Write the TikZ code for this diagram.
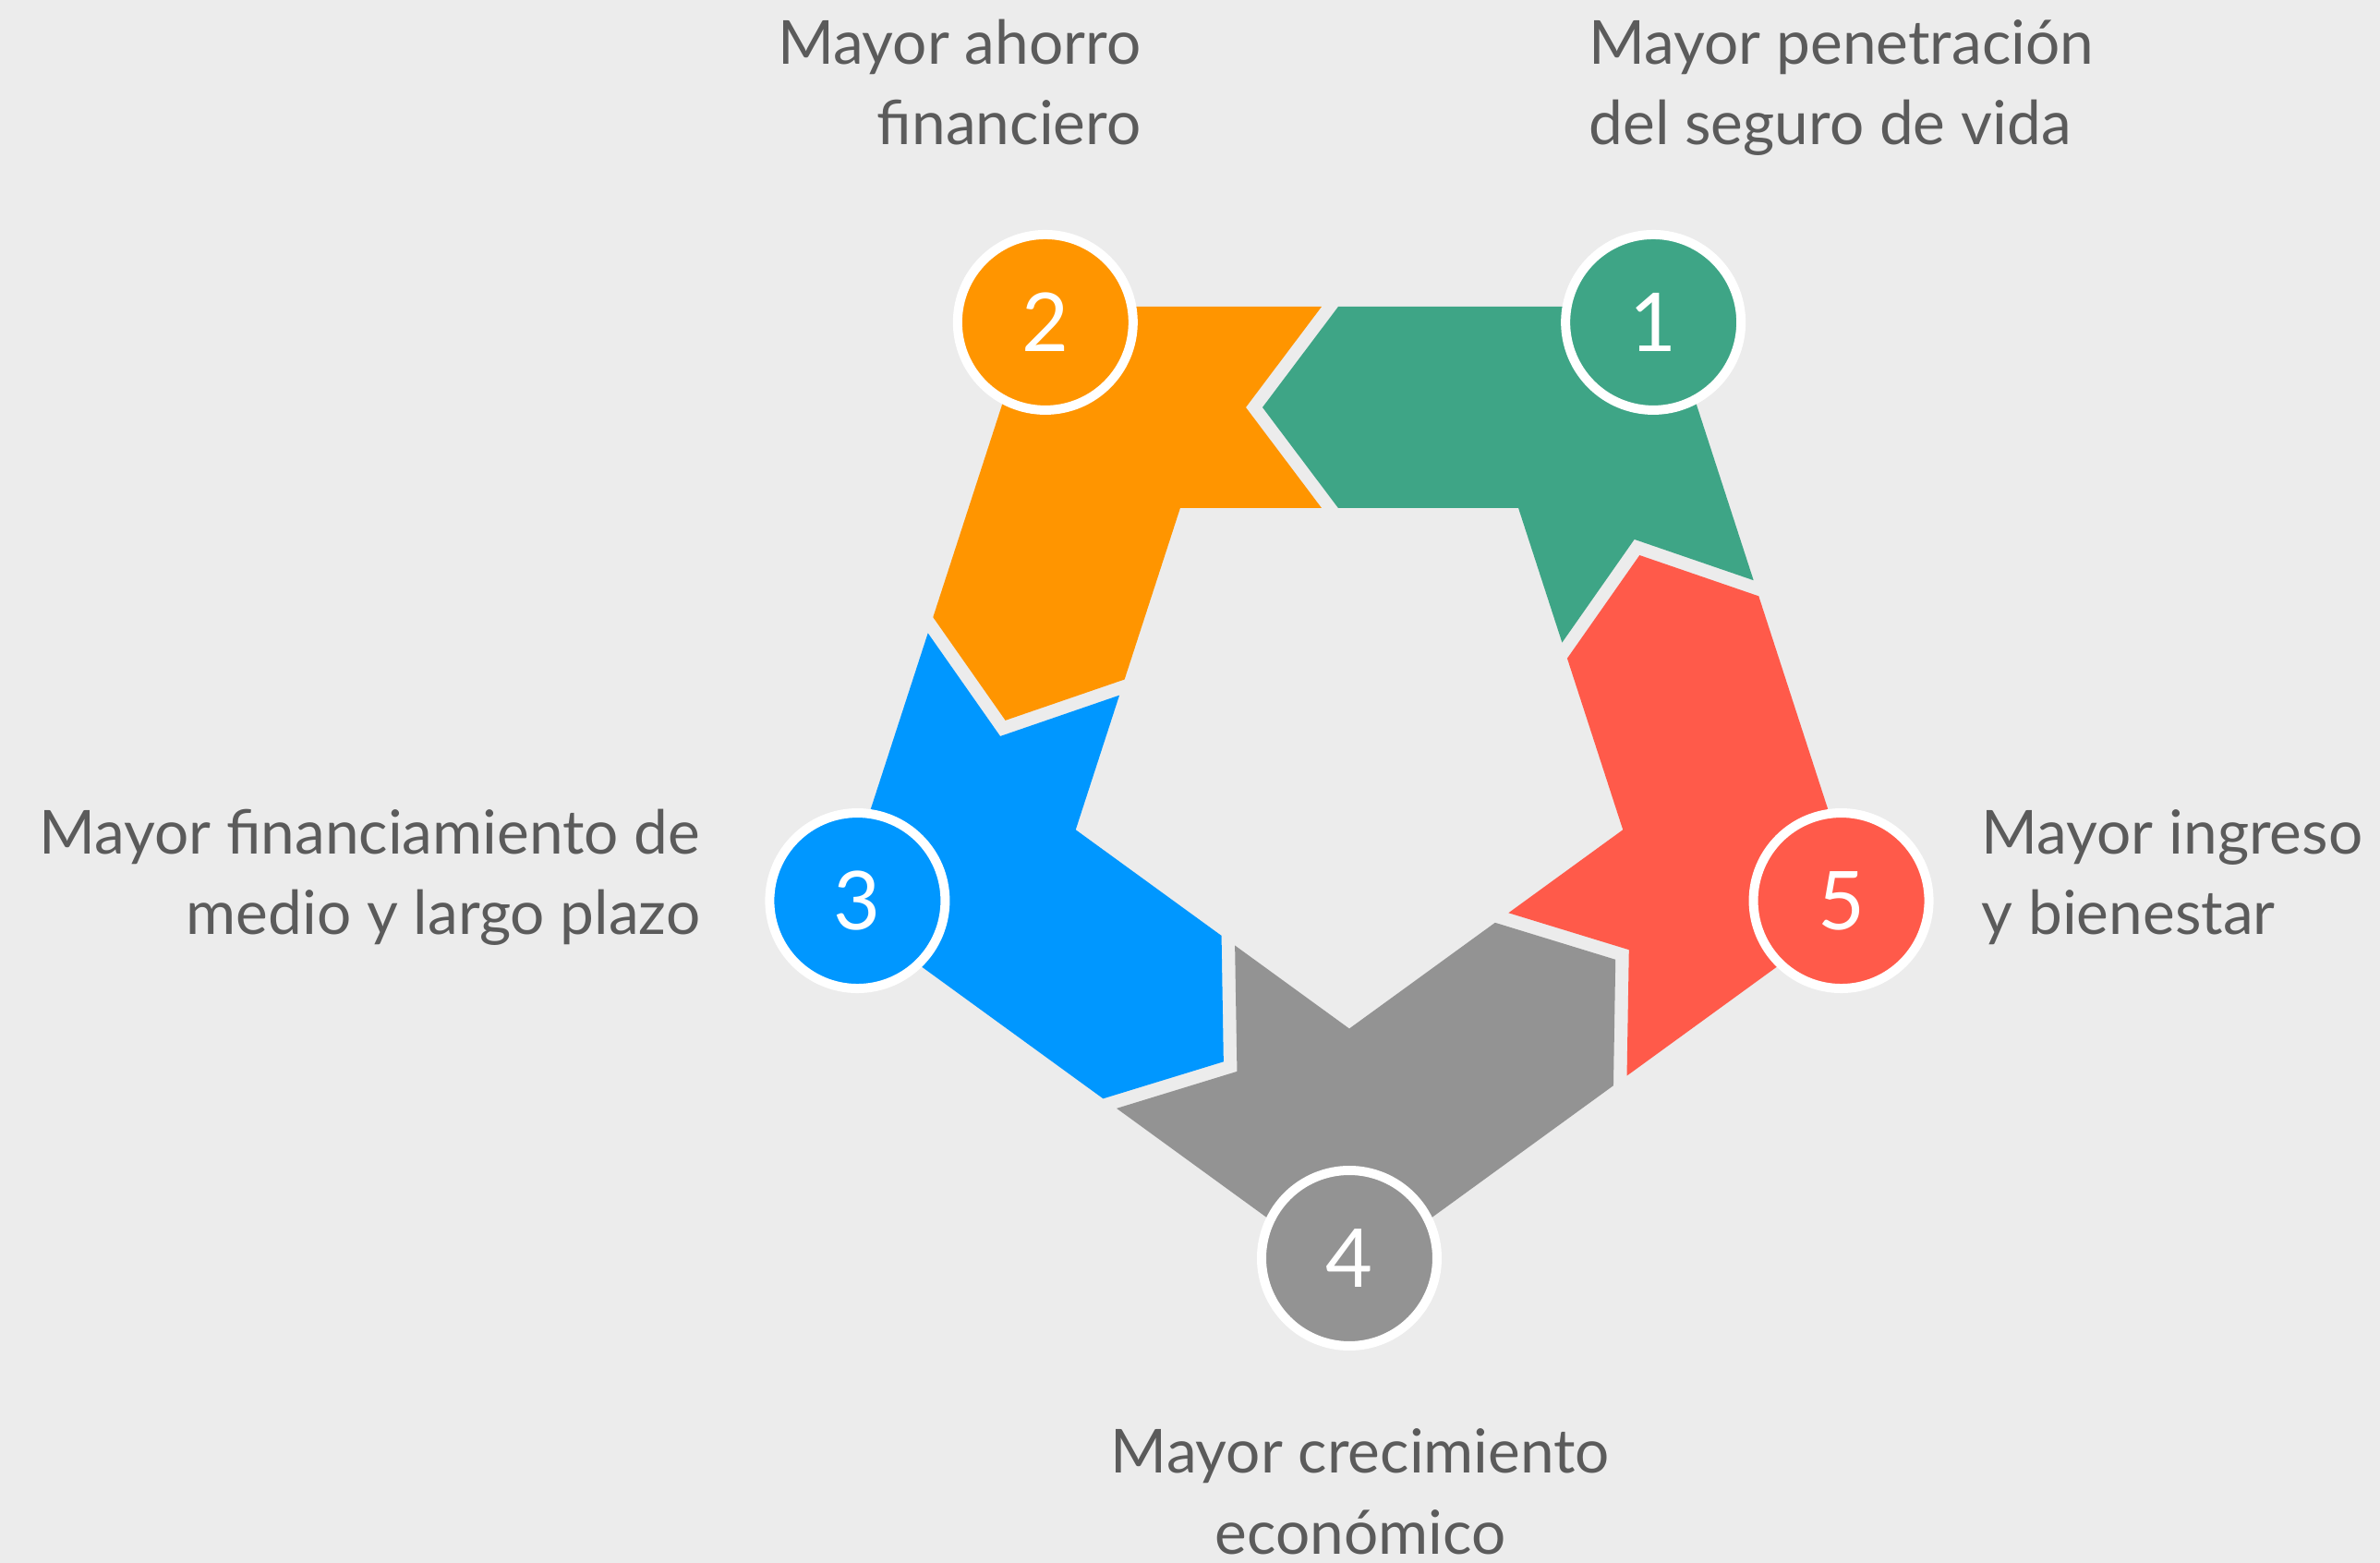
\documentclass[tikz,border=0pt]{standalone}
\usepackage{fontspec}
\setmainfont{Lato}
\usepackage{xcolor}
\usepackage{tikz}
\usetikzlibrary{positioning, calc}
\definecolor{seg-green}{HTML}{3EA586}
\definecolor{seg-orange}{HTML}{FF9500}
\definecolor{seg-blue}{HTML}{0097FF}
\definecolor{seg-gray}{HTML}{939393}
\definecolor{seg-red}{HTML}{FF5A4A}
\definecolor{bg-gray}{HTML}{ECECEC}
\definecolor{txt-gray}{HTML}{5B5B5B}

\begin{document}
\begin{tikzpicture}[
			badge/.style={
				circle, draw=white, line width=0.1cm,
				minimum size=1.9cm, inner sep=0pt,
				font=\fontsize{25}{25}\selectfont\color{white}
			},
			caption/.style={
				inner sep=0pt,
				font=\fontsize{18.7}{25}\selectfont\color{txt-gray}
			}
			]
			
			\useasboundingbox[fill=bg-gray] (-14.61,-8.90) rectangle (11.16,8.02);
			
			% one bent arrow round the top right corner, the others are turned copies
			\def\seg{(4.377,1.738) -- (3.087,2.181) -- (2.304,1.064) -- (1.831,2.520)
				-- (-0.12,2.52) -- (-0.94,3.61) -- (-0.12,4.70) -- (3.415,4.700) -- cycle}
			
			\fill[seg-green] \seg;
			\fill[seg-orange, rotate=72] \seg;
			\fill[seg-blue, rotate=144] \seg;
			\fill[seg-gray, rotate=216] \seg;
			\fill[seg-red, rotate=288] \seg;
			
			\node[badge, fill=seg-green] (n1) at (54:5.6) {1};
			\node[badge, fill=seg-orange] (n2) at (126:5.6) {2};
			\node[badge, fill=seg-blue] (n3) at (198:5.6) {3};
			\node[badge, fill=seg-gray] (n4) at (270:5.6) {4};
			\node[badge, fill=seg-red] (n5) at (342:5.6) {5};
			
			% base anchor sits on the last line
			\node[caption, anchor=base west, align=left] (t1) at (2.59,6.45)
			{Mayor penetración\\del seguro de vida};
			\node[caption, anchor=base east, align=right] (t2) at (-2.25,6.45)
			{Mayor ahorro\\financiero};
			\node[caption, anchor=base east, align=right] (t3) at (-7.02,-2.10)
			{Mayor financiamiento de\\medio y largo plazo};
			\node[caption, anchor=base, align=center] (t4) at (0.12,-8.80)
			{Mayor crecimiento\\económico};
			\node[caption, anchor=base west, align=left] (t5) at (6.84,-2.10)
			{Mayor ingreso\\y bienestar};
			
		\end{tikzpicture}
\end{document}
